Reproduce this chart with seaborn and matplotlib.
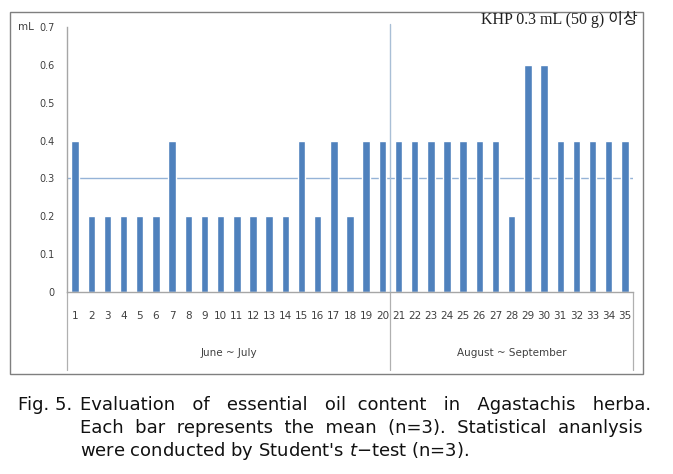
import numpy as np
import pandas as pd
import seaborn as sns
import matplotlib.pyplot as plt
import matplotlib.transforms as mtransforms
from matplotlib.patches import Rectangle

samples = [str(i) for i in range(1, 36)]
oil_ml = [0.4, 0.2, 0.2, 0.2, 0.2, 0.2, 0.4, 0.2, 0.2, 0.2,
          0.2, 0.2, 0.2, 0.2, 0.4, 0.2, 0.4, 0.2, 0.4, 0.4,
          0.4, 0.4, 0.4, 0.4, 0.4, 0.4, 0.4, 0.2, 0.6, 0.6,
          0.4, 0.4, 0.4, 0.4, 0.4]
groups = ["June ~ July", "August ~ September"]
group_sizes = [20, 15]
khp_limit = 0.3
y_ticks = [0, 0.1, 0.2, 0.3, 0.4, 0.5, 0.6, 0.7]
y_labels = ["0", "0.1", "0.2", "0.3", "0.4", "0.5", "0.6", "0.7"]

df = pd.DataFrame({"sample": samples, "oil": oil_ml})

sns.set_style("white")
plt.rcParams["font.family"] = ["DejaVu Sans", "Noto Sans CJK KR"]

W, H = 673, 474
fig = plt.figure(figsize=(W / 100, H / 100), dpi=100)

# outer chart border
fig.patches.append(Rectangle((10 / W, 1 - 374 / H), 633 / W, 362 / H,
                             transform=fig.transFigure, fill=False,
                             edgecolor="#7f7f7f", lw=1.0))

ax = fig.add_axes([67 / W, 1 - 292 / H, (633 - 67) / W, (292 - 27) / H])
sns.barplot(data=df, x="sample", y="oil", color="#4f81bd", saturation=1,
            width=0.46, ax=ax)

ax.set_xlim(-0.5, len(samples) - 0.5)
ax.set_ylim(0, 0.7)
ax.set_xlabel("")
ax.set_ylabel("")
ax.set_yticks(y_ticks)
ax.set_yticklabels(y_labels, fontsize=7, color="#404040")
ax.tick_params(axis="y", length=3, color="#a0a0a0", pad=6)

for s in ["top", "right"]:
    ax.spines[s].set_visible(False)
for s in ["left", "bottom"]:
    ax.spines[s].set_color("#a6a6a6")
    ax.spines[s].set_linewidth(1.0)

# category labels and separators
ax.set_xticks(range(len(samples)))
ax.set_xticklabels(samples, fontsize=7.5, color="#404040")
ax.tick_params(axis="x", which="major", length=0, pad=14)
ax.set_xticks(np.arange(-0.5, len(samples), 1), minor=True)
ax.tick_params(axis="x", which="minor", length=27, color="#b0b0b0", width=0.8)

# reference line for the KHP limit
ax.axhline(khp_limit, color="#95b3d7", lw=1.0, zorder=0)

trans = mtransforms.blended_transform_factory(ax.transData, ax.transAxes)
edges = np.concatenate([[0], np.cumsum(group_sizes)]) - 0.5
for e in edges:
    ax.plot([e, e], [0, -78 / 265], color="#b0b0b0", lw=0.9,
            transform=trans, clip_on=False)
# season divider inside the plot
ax.plot([edges[1], edges[1]], [0, 1.01], color="#a9bfd6", lw=1.0,
        transform=trans, clip_on=False, zorder=0)

for g, a, b in zip(groups, edges[:-1], edges[1:]):
    ax.text((a + b) / 2, -61 / 265, g, transform=trans, ha="center",
            va="center", fontsize=7.5, color="#404040")

fig.text(26 / W, 1 - 27 / H, "mL", ha="center", va="center",
         fontsize=7.5, color="#404040")

fig.text(638 / W, 1 - 20 / H, "KHP 0.3 mL (50 g) 이상",
         ha="right", va="center", fontsize=11.5,
         family=["Liberation Serif", "Noto Sans CJK KR"], color="#202020")

# caption (first two lines justified with extra spaces)
cap_kw = dict(fontsize=13, family=["DejaVu Sans"], va="center", ha="left",
              color="#111111")
fig.text(18 / W, 1 - 405 / H, "Fig. 5.", **cap_kw)
fig.text(80 / W, 1 - 405 / H,
         "Evaluation   of   essential   oil  content   in   Agastachis   herba.",
         **cap_kw)
fig.text(80 / W, 1 - 428 / H,
         "Each  bar  represents  the  mean  (n=3).  Statistical  ananlysis",
         **cap_kw)
fig.text(80 / W, 1 - 451 / H,
         "were conducted by Student's $t$\u2212test (n=3).", **cap_kw)

fig.savefig("out.png", dpi=100)
